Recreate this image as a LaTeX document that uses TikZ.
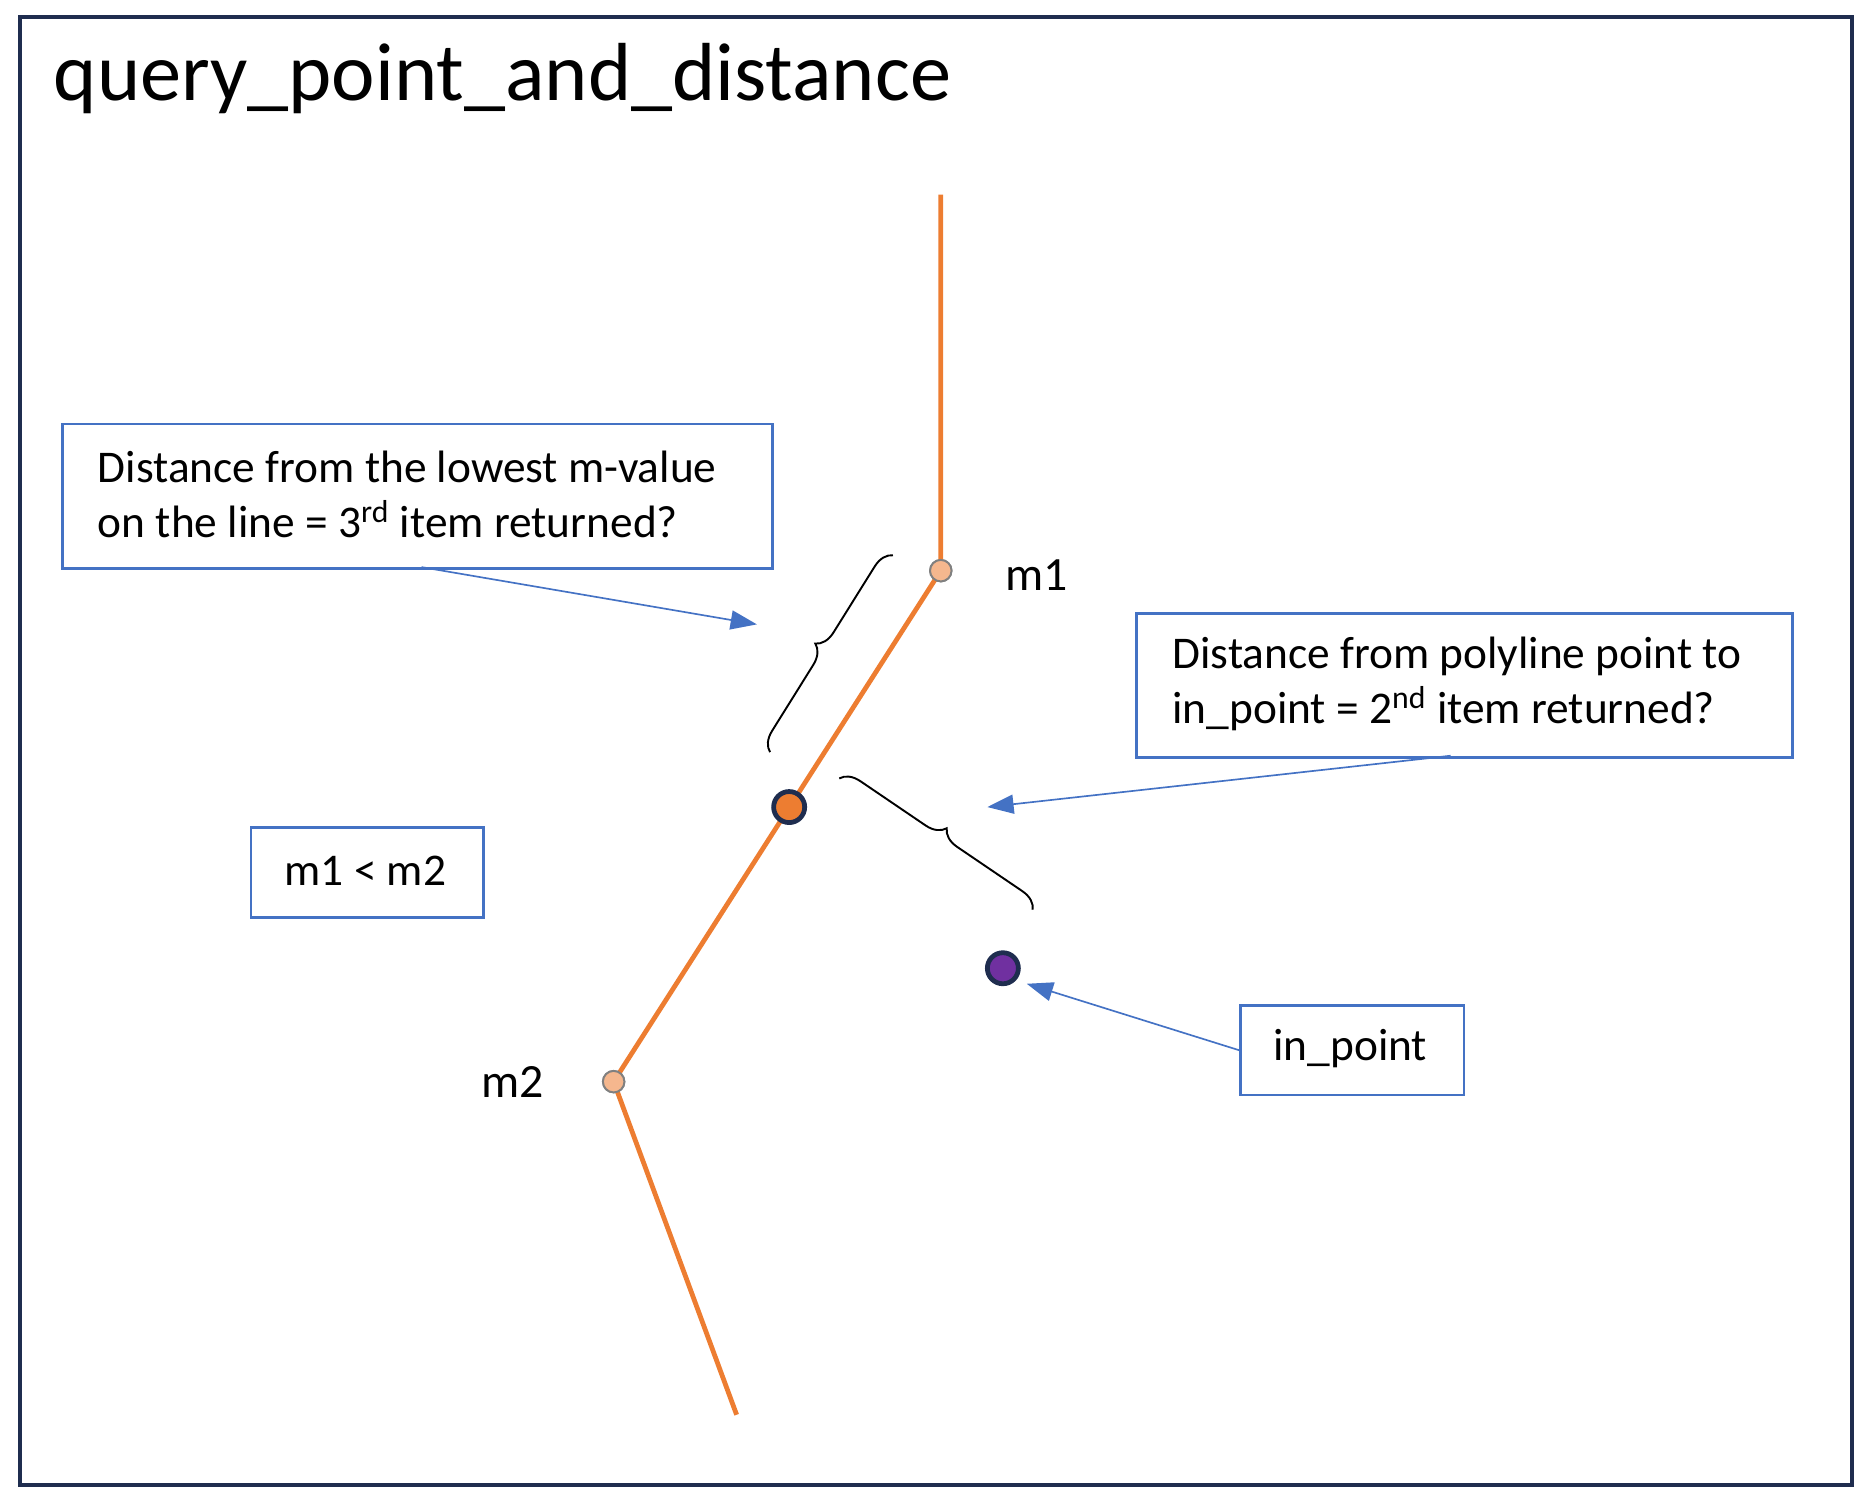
\documentclass[tikz,border=0pt]{standalone}
\usepackage{fontspec}
\setmainfont{Carlito}
\usetikzlibrary{arrows.meta,decorations.pathreplacing}
\definecolor{navy}{HTML}{1F2D4F}
\definecolor{org}{HTML}{ED7D31}
\definecolor{blu}{HTML}{4472C4}
\definecolor{pur}{HTML}{7030A0}
\begin{document}
\begin{tikzpicture}[x=0.5pt,y=-0.5pt,
 box/.style={draw=blu,line width=1.2pt,rectangle,inner sep=0pt,anchor=north west},
 txt/.style={font=\fontsize{19}{23}\selectfont,align=left},
 arr/.style={blu,line width=0.7pt,-{Triangle[length=11pt,width=8pt]}},
 brc/.style={line width=0.8pt,decorate,decoration={brace,amplitude=8pt}},
 vtx/.style={circle,draw=gray,fill=org!55,line width=0.8pt,minimum size=9pt,inner sep=0pt},
 dot/.style={circle,draw=navy,line width=2pt,minimum size=13pt,inner sep=0pt}]
\useasboundingbox (0,0) rectangle (1568,1246);
\draw[navy,line width=1.6pt] (17,14) rectangle (1551,1244);
\node[anchor=west,font=\fontsize{34.5}{40}\selectfont] (title) at (38,66) {query\_point\_and\_distance};
\coordinate (top) at (788,163);
\coordinate (bot) at (617,1185);
\node[vtx] (v1) at (788,478) {};
\node[vtx] (v2) at (514,906) {};
\draw[org,line width=2pt] (top) -- (v1.center) -- (v2.center) -- (bot);
\node[vtx] at (788,478) {};
\node[vtx] at (514,906) {};
\node[dot,fill=org] (p) at (661,676) {};
\node[dot,fill=pur] (ip) at (840,811) {};
\node[font=\fontsize{20}{24}\selectfont] (m1) at (868,482) {m1};
\node[font=\fontsize{20}{24}\selectfont] (m2) at (429,906) {m2};
\node[box,minimum width=297.5pt,minimum height=60.5pt] (b1) at (51,354) {};
\node[txt,anchor=west] at (75,414) {Distance from the lowest m-value\\on the line = 3\textsuperscript{rd} item returned?};
\node[box,minimum width=274.5pt,minimum height=60pt] (b2) at (951,513) {};
\node[txt,anchor=west] at (975,573) {Distance from polyline point to\\in\_point = 2\textsuperscript{nd} item returned?};
\node[box,minimum width=97.5pt,minimum height=37.5pt] (b3) at (209,692) {};
\node[txt] at (306,729) {m1 < m2};
\node[box,minimum width=93.5pt,minimum height=37.5pt] (b4) at (1038,841) {};
\node[txt] at (1131,878) {in\_point};
\coordinate (a1) at (634,523);
\coordinate (a2) at (827,676);
\coordinate (a3) at (860,824);
\draw[arr] (353,475) -- (a1);
\draw[arr] (1215,633) -- (a2);
\draw[arr] (b4.west) -- (a3);
\coordinate (br1a) at (645,630);
\coordinate (br1b) at (748,465);
\coordinate (br2a) at (703,652);
\coordinate (br2b) at (865,762);
\draw[brc] (br1a) -- (br1b);
\draw[brc] (br2a) -- (br2b);
\end{tikzpicture}
\end{document}
